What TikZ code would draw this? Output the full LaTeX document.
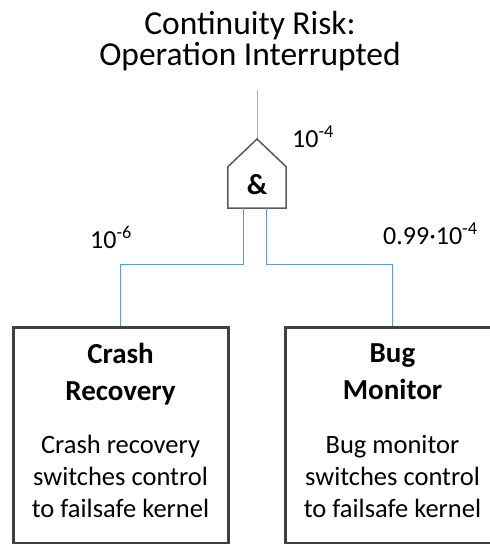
\documentclass[tikz,border=0pt]{standalone}
\usepackage{fontspec}
\setmainfont{Carlito}
\definecolor{wireblue}{HTML}{5B9BD5}
\definecolor{toplight}{HTML}{8FB9E3}
\definecolor{boxgray}{HTML}{404040}
\definecolor{gategray}{HTML}{595959}
\begin{document}
\begin{tikzpicture}[x=1pt, y=-1pt,
    wire/.style={draw=wireblue, line width=0.9pt},
    riskbox/.style={draw=boxgray, line width=3pt, minimum width=215, minimum height=216, inner sep=0pt},
    headtext/.style={font=\fontsize{29}{37}\selectfont\bfseries, align=center, anchor=north, inner sep=0pt},
    bodytext/.style={font=\fontsize{26.5}{32}\selectfont, align=center, anchor=north, inner sep=0pt},
    prob/.style={font=\fontsize{26}{30}\selectfont, anchor=base west, inner sep=0pt}]
    \useasboundingbox (0,0) rectangle (490,544);
    % Top event
    \node[font=\fontsize{33.5}{31}\selectfont, align=center, anchor=north, inner sep=0pt] (title) at (250,11) {Continuity Risk:\\Operation Interrupted};
    \coordinate (top) at (257,90);
    \coordinate (apex) at (257,139);
    \draw[draw=toplight, line width=1pt] (top) -- (apex);

    % AND gate
    \node[minimum width=58, minimum height=41, inner sep=0pt] (gate) at (257,187.5) {};
    \draw[draw=gategray, line width=1.5pt, line join=miter] (gate.south west) -- (gate.north west) -- (apex) -- (gate.north east) -- (gate.south east) -- cycle;
    \node[font=\fontsize{29}{29}\selectfont\bfseries, inner sep=0pt] (amp) at (257,185) {\&};
    \node[prob] (ptop) at (292,147) {10\textsuperscript{-4}};

    % Basic events
    \node[riskbox] (crash) at (120.5,435) {};
    \node[riskbox] (bug) at (392.5,435) {};
    \node[headtext] (crashhead) at (120.5,343) {Crash\\Recovery};
    \node[bodytext] (crashbody) at (120.5,435) {Crash recovery\\switches control\\to failsafe kernel};
    \node[headtext] (bughead) at (392.5,343) {Bug\\Monitor};
    \node[bodytext] (bugbody) at (392.5,435) {Bug monitor\\switches control\\to failsafe kernel};

    \draw[wire] ([xshift=-14]gate.south) -- ++(0,56) -| (crash.north);
    \draw[wire] ([xshift=9]gate.south) -- ++(0,56) -| (bug.north);
    \node[prob] (pcrash) at (90,248) {10\textsuperscript{-6}};
    \node[prob] (pbug) at (383,244) {0.99·10\textsuperscript{-4}};
\end{tikzpicture}
\end{document}
